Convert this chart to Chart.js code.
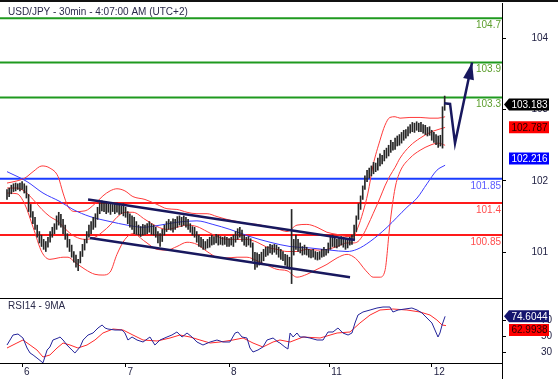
<!DOCTYPE html>
<html>
<head>
<meta charset="utf-8">
<script src="https://cdn.jsdelivr.net/npm/chart.js@4.4.0/dist/chart.umd.min.js"></script>
<style>
  body { margin: 0; background: #fff; }
  #wrap { position: relative; width: 558px; height: 379px; }
  #wrap canvas { position: absolute; left: 0; top: 0; }
</style>
</head>
<body>
<div id="wrap">
  <canvas id="mainChart" width="558" height="379"></canvas>
  <canvas id="rsiChart" width="558" height="379"></canvas>
</div>
<script>
// 30 min bars, index 0 = first bar on the left
var barHighs = [
  101.88,101.90,101.94,101.96,101.97,101.96,101.97,101.99,101.96,101.93,
  101.81,101.67,101.57,101.49,101.38,101.29,101.24,101.18,101.15,101.21,
  101.29,101.35,101.40,101.51,101.56,101.53,101.46,101.38,101.26,101.18,
  101.10,101.01,100.96,100.90,101.01,101.11,101.18,101.29,101.38,101.43,
  101.49,101.54,101.63,101.69,101.72,101.69,101.71,101.68,101.69,101.67,
  101.68,101.69,101.67,101.65,101.68,101.63,101.57,101.54,101.51,101.49,
  101.43,101.38,101.36,101.39,101.38,101.40,101.43,101.40,101.38,101.35,
  101.29,101.26,101.32,101.38,101.43,101.46,101.43,101.47,101.46,101.50,
  101.51,101.49,101.51,101.49,101.46,101.40,101.36,101.35,101.29,101.24,
  101.21,101.18,101.15,101.18,101.21,101.24,101.22,101.25,101.24,101.22,
  101.21,101.22,101.21,101.19,101.21,101.24,101.29,101.33,101.35,101.31,
  101.24,101.21,101.22,101.19,101.13,101.00,100.99,100.97,101.00,101.04,
  101.07,101.08,101.11,101.10,101.11,101.10,101.07,101.04,101.01,100.97,
  100.96,100.93,101.60,101.18,101.24,101.18,101.13,101.08,101.10,101.07,
  101.04,101.03,101.04,101.01,101.00,101.01,101.04,101.07,101.04,101.13,
  101.21,101.24,101.21,101.18,101.21,101.22,101.21,101.18,101.18,101.21,
  101.24,101.38,101.51,101.68,101.79,101.93,102.07,102.15,102.18,102.21,
  102.26,102.25,102.32,102.38,102.36,102.43,102.46,102.50,102.57,102.54,
  102.60,102.63,102.65,102.68,102.71,102.72,102.76,102.79,102.82,102.81,
  102.83,102.81,102.82,102.79,102.78,102.75,102.76,102.71,102.68,102.65,
  102.63,102.64,103.04,103.19
];
var barLows = [
  101.74,101.78,101.82,101.85,101.86,101.88,101.86,101.88,101.83,101.76,
  101.57,101.49,101.40,101.32,101.21,101.13,101.08,101.04,101.01,101.07,
  101.14,101.21,101.26,101.32,101.38,101.35,101.26,101.18,101.07,101.01,
  100.93,100.86,100.79,100.74,100.85,100.94,101.03,101.13,101.21,101.26,
  101.32,101.35,101.46,101.54,101.58,101.57,101.54,101.56,101.53,101.57,
  101.54,101.56,101.53,101.54,101.51,101.49,101.40,101.35,101.32,101.26,
  101.25,101.24,101.22,101.24,101.25,101.26,101.28,101.25,101.24,101.21,
  101.13,101.08,101.15,101.24,101.29,101.32,101.31,101.28,101.32,101.35,
  101.38,101.36,101.38,101.35,101.32,101.28,101.24,101.21,101.14,101.08,
  101.07,101.04,101.04,101.06,101.07,101.10,101.11,101.13,101.10,101.11,
  101.10,101.11,101.08,101.08,101.10,101.08,101.14,101.18,101.21,101.15,
  101.10,101.08,101.10,101.07,100.88,100.76,100.79,100.82,100.85,100.88,
  100.94,100.96,100.99,100.97,101.00,100.97,100.93,100.90,100.88,100.82,
  100.79,100.76,100.56,100.96,101.04,101.01,100.99,100.96,100.97,100.96,
  100.93,100.92,100.93,100.90,100.89,100.90,100.93,100.94,100.96,100.99,
  101.04,101.08,101.07,101.06,101.08,101.10,101.07,101.04,101.06,101.10,
  101.11,101.18,101.29,101.46,101.60,101.74,101.88,101.99,102.04,102.07,
  102.10,102.13,102.15,102.21,102.24,102.28,102.32,102.35,102.40,102.43,
  102.44,102.49,102.50,102.53,102.57,102.60,102.63,102.67,102.69,102.68,
  102.71,102.69,102.69,102.67,102.65,102.63,102.64,102.57,102.54,102.51,
  102.47,102.49,102.46,102.99
];

// Bollinger bands (bar index -> value)
var bandX = [0,4.6,8.3,12.1,16.2,19.9,23.7,26.0,28.3,31.5,36.2,40.8,44.5,47.8,51.0,54.7,58.4,64.0,69.6,74.2,
  78.8,83.5,88.1,92.8,97.4,102.0,106.7,111.3,116.0,120.6,125.2,129.9,134.5,139.1,143.8,148.4,153.1,157.7,160.5,162.8,
  165.1,167.4,169.8,173.0,175.3,177.6,180.0,182.3,186.9,191.6,196.2,199.9,203.2];
var bandUpper = [101.97,102.00,102.04,102.13,102.21,102.18,102.06,101.83,101.64,101.57,
  101.58,101.68,101.79,101.86,101.89,101.86,101.78,101.74,101.67,101.61,
  101.60,101.56,101.54,101.54,101.50,101.46,101.43,101.40,101.39,101.36,
  101.33,101.29,101.38,101.39,101.35,101.28,101.25,101.22,101.22,101.35,
  101.56,101.83,102.22,102.57,102.78,102.89,102.90,102.88,102.89,102.89,
  102.88,102.88,102.90];
var bandMiddle = [101.90,101.90,101.85,101.74,101.60,101.50,101.43,101.36,101.29,101.22,
  101.18,101.21,101.29,101.38,101.49,101.56,101.56,101.46,101.36,101.32,
  101.35,101.38,101.36,101.29,101.22,101.18,101.18,101.18,101.14,101.07,
  101.04,101.01,101.01,101.04,101.03,101.04,101.08,101.13,101.13,101.15,
  101.24,101.38,101.54,101.76,101.93,102.07,102.19,102.32,102.49,102.60,
  102.68,102.72,102.75];
var bandLower = [101.83,101.82,101.67,101.35,101.00,100.90,100.92,100.93,100.93,100.86,
  100.76,100.69,100.68,100.72,100.97,101.18,101.26,101.15,101.04,101.03,
  101.08,101.14,101.11,101.01,100.93,100.92,100.93,100.93,100.88,100.82,
  100.76,100.74,100.65,100.69,100.76,100.83,100.92,100.97,100.94,100.88,
  100.79,100.71,100.65,100.65,100.74,101.39,101.90,102.13,102.32,102.43,
  102.50,102.53,102.50];

// slow moving average (blue)
var maX = [0,9.3,16.7,24.6,30.6,38.5,47.8,55.7,63.1,71.0,78.8,88.1,95.5,103.4,112.7,122.0,131.3,140.5,149.8,157.7,
  162.3,168.4,176.3,180.9,185.5,190.2,194.8,199.4,203.2];
var maValues = [102.13,101.99,101.83,101.71,101.60,101.50,101.43,101.38,101.35,101.38,101.42,101.44,101.39,101.32,101.22,
  101.14,101.08,101.06,101.03,101.01,101.04,101.15,101.35,101.49,101.63,101.76,101.96,102.15,102.22];

// drawn levels
var levelValues = [104.28, 103.66, 103.17, 102.03, 101.69, 101.24];
var levelLabels = ['104.7', '103.9', '103.3', '101.85', '101.4', '100.85'];

// channel and forecast arrow
var channelUpperX = [37.6, 161.4];
var channelUpperY = [101.74, 101.17];
var channelLowerX = [38.5, 159.1];
var channelLowerY = [101.20, 100.65];
var arrowX = [202.7, 205.5, 207.8, 215.7];
var arrowY = [103.09, 103.08, 102.53, 103.66];

var priceTicks = [101, 102, 103, 104];
var lastValues = [103.183, 102.787, 102.216];
var dayTicks = [7, 55, 103, 149.5, 197];
var dayLabels = ['6', '7', '8', '11', '12'];

// RSI14 and its 9MA
var rsiX = [0,2.8,5.1,7.4,9.3,10.7,12.1,13.9,16.2,16.7,18.6,19.9,21.3,23.7,24.6,26.0,27.8,30.1,31.5,33.9,
  35.3,37.6,39.9,42.2,44.1,45.5,46.8,50.1,53.3,54.7,56.1,58.0,60.3,63.1,66.3,68.6,71.0,74.2,76.5,78.8,
  81.2,83.5,85.8,88.1,90.9,94.2,97.4,100.2,103.4,105.8,107.1,109.0,111.3,112.7,114.1,116.4,118.7,120.6,123.4,125.7,
  126.6,128.9,130.3,131.3,132.7,134.5,135.9,138.2,140.5,143.8,146.6,148.9,151.2,153.5,155.8,158.2,160.0,161.4,162.8,165.1,
  168.4,171.6,174.4,177.6,179.0,181.4,184.6,187.8,190.2,192.5,194.8,197.1,198.5,199.9,200.8,201.8,203.2];
var rsiValues = [38.75,51.25,52.5,47.5,35,28.75,26.25,22.5,17.5,16.5,32.5,36.25,45,47.5,48.75,45,38.75,32.5,28.75,36.25,
  45,51.25,53.75,60,63.75,60,58.75,57.5,57.5,53.75,45,48.75,45,42.5,48.75,38.75,45,48.75,51.25,55,
  48.75,53.75,48.75,42.5,38.75,42.5,45,42.5,42.5,53.75,55,48.75,47.5,35,30,32.5,36.25,45,47.5,42.5,
  41.25,36.25,33.75,53.75,48.75,53.75,48.75,48.75,47.5,45,45,55,55,60,53.75,51.25,53.75,66.25,76.25,80,
  82.5,85,86.25,86.25,80,82.5,83.75,85,82.5,78.75,72.5,66.25,57.5,48.75,53.75,63.75,74.6];
var rsiMaX = [0,4.6,7.4,10.7,13.9,16.7,19.9,23.2,26.0,29.2,32.9,37.1,40.8,44.5,49.2,53.8,58.4,63.1,69.6,75.6,
  80.2,84.9,89.5,94.2,98.8,104.8,109.5,114.1,118.7,123.4,126.6,131.3,137.3,145.2,153.1,159.1,163.7,168.4,173.0,179.0,
  185.5,191.6,196.2,199.4,201.8,203.6];
var rsiMaValues = [35,41.25,45,38.75,32.5,23.75,26.25,35,41.25,38.75,35,38.75,45,53.75,58.75,57.5,51.25,45,43.75,47.5,
  51.25,48.75,45,41.25,42.5,45,47.5,41.25,36.25,42.5,45,42.5,48.75,47.5,53.75,55,66.25,76.25,82.5,83.75,
  82.5,80,76.25,70,63.75,63];
var rsiTicks = [30, 50, 70];
var rsiLastValues = [74.6044, 62.9938];

// ---- styles ----
var FONT = "'Liberation Sans', Arial, sans-serif";
var NAVY = '#18185e';
var levelColors = ['#1f9a1f', '#1f9a1f', '#1f9a1f', '#1a3cff', '#ff1a1a', '#ff1a1a'];
var levelTextColors = ['#5c9e2c', '#5c9e2c', '#5c9e2c', '#5a5aff', '#ff4d4d', '#ff4d4d'];
var xMin = -3.247, xMax = 229.59;

Chart.defaults.font.family = FONT;
Chart.defaults.font.size = 10;

function pts(xs, ys) {
  var out = [];
  for (var i = 0; i < xs.length && i < ys.length; i++) out.push({x: xs[i], y: ys[i]});
  return out;
}

function lineSet(data, color, width, order, smooth) {
  return {
    type: 'line', data: data, borderColor: color, borderWidth: width,
    pointRadius: 0, fill: false, order: order,
    cubicInterpolationMode: smooth ? 'monotone' : 'default', tension: 0
  };
}

// small price tag on the right axis
function valueBox(ctx, text, yc, bg, fg, pointer) {
  var left = 509, right = 549, h = 12;
  ctx.fillStyle = bg;
  ctx.beginPath();
  if (pointer) { ctx.moveTo(504, yc); ctx.lineTo(left, yc - h / 2); }
  else ctx.moveTo(left, yc - h / 2);
  ctx.lineTo(right, yc - h / 2);
  ctx.lineTo(right, yc + h / 2);
  ctx.lineTo(left, yc + h / 2);
  ctx.closePath();
  ctx.fill();
  ctx.fillStyle = fg;
  ctx.font = '10px ' + FONT;
  ctx.textAlign = 'center';
  ctx.textBaseline = 'middle';
  ctx.fillText(text, (left + right) / 2 + 0.5, yc + 0.5);
}

var datasets = [];
levelValues.forEach(function(v, i) {
  datasets.push(lineSet([{x: xMin, y: v}, {x: xMax, y: v}], levelColors[i], 2, 5, false));
});
datasets.push(lineSet(pts(bandX, bandUpper), '#ff3a3a', 1, 4, true));
datasets.push(lineSet(pts(bandX, bandMiddle), '#ff3a3a', 1, 4, true));
datasets.push(lineSet(pts(bandX, bandLower), '#ff3a3a', 1, 4, true));
datasets.push(lineSet(pts(maX, maValues), '#3a3aff', 1, 3, true));
datasets.push({
  type: 'bar',
  data: barHighs.map(function(h, i) { return {x: i, y: [barLows[i], h]}; }),
  backgroundColor: '#262626', barThickness: 1, order: 2
});
datasets.push(lineSet(pts(channelUpperX, channelUpperY), NAVY, 2.5, 1, false));
datasets.push(lineSet(pts(channelLowerX, channelLowerY), NAVY, 2.5, 1, false));
var arrowSet = lineSet(pts(arrowX, arrowY), NAVY, 2.5, 0, false);
arrowSet.borderJoinStyle = 'miter';
datasets.push(arrowSet);
var arrowIndex = datasets.length - 1;

var mainOverlay = {
  id: 'mainOverlay',
  afterDatasetsDraw: function(chart) {
    var ctx = chart.ctx, ys = chart.scales.y, area = chart.chartArea;
    ctx.save();
    // arrow head
    var p = chart.getDatasetMeta(arrowIndex).data;
    var a = p[p.length - 2], b = p[p.length - 1];
    var ang = Math.atan2(b.y - a.y, b.x - a.x);
    var len = 17, half = 5.5;
    ctx.fillStyle = NAVY;
    ctx.beginPath();
    ctx.moveTo(b.x, b.y);
    ctx.lineTo(b.x - len * Math.cos(ang) + half * Math.sin(ang), b.y - len * Math.sin(ang) - half * Math.cos(ang));
    ctx.lineTo(b.x - len * Math.cos(ang) - half * Math.sin(ang), b.y - len * Math.sin(ang) + half * Math.cos(ang));
    ctx.closePath();
    ctx.fill();
    // level labels
    ctx.font = '10px ' + FONT;
    ctx.textAlign = 'right';
    ctx.textBaseline = 'middle';
    levelValues.forEach(function(v, i) {
      ctx.fillStyle = levelTextColors[i];
      ctx.fillText(levelLabels[i], area.right - 1, ys.getPixelForValue(v) + 7);
    });
    ctx.restore();
  },
  afterDraw: function(chart) {
    var ctx = chart.ctx, ys = chart.scales.y;
    ctx.save();
    ctx.fillStyle = '#111';
    ctx.fillRect(0, 0, 558, 2);
    ctx.font = '10px ' + FONT;
    ctx.textAlign = 'left';
    ctx.textBaseline = 'middle';
    ctx.fillStyle = '#2a2a4a';
    ctx.fillText('USD/JPY - 30min - 4:07:00 AM (UTC+2)', 8, 12);
    valueBox(ctx, lastValues[0].toFixed(3), ys.getPixelForValue(lastValues[0]) + 8, '#000', '#fff', true);
    valueBox(ctx, lastValues[1].toFixed(3), ys.getPixelForValue(lastValues[1]) + 2.5, '#ff0000', '#2a0000', false);
    valueBox(ctx, lastValues[2].toFixed(3), ys.getPixelForValue(lastValues[2]) - 7, '#0000ff', '#fff', false);
    ctx.restore();
  }
};

new Chart(document.getElementById('mainChart'), {
  type: 'bar',
  data: { datasets: datasets },
  options: {
    responsive: false, animation: false, devicePixelRatio: 1,
    layout: { padding: { top: 3, bottom: 80, left: 0, right: 0 } },
    plugins: { legend: { display: false }, tooltip: { enabled: false } },
    scales: {
      x: { type: 'linear', min: xMin, max: xMax, bounds: 'data', offset: false, display: false },
      y: {
        type: 'linear', position: 'right', min: 100.344, max: 104.495, bounds: 'data',
        afterBuildTicks: function(s) { s.ticks = priceTicks.map(function(v) { return {value: v}; }); },
        afterFit: function(s) { s.width = 56; s.paddingTop = 0; s.paddingBottom = 0; },
        ticks: { padding: 25.5, crossAlign: 'near', color: '#222244', font: { size: 10 } },
        grid: { drawOnChartArea: false, tickLength: 4, color: '#000' },
        border: { color: '#000', width: 1 }
      }
    }
  },
  plugins: [mainOverlay]
});

// ---- RSI panel ----
var rsiOverlay = {
  id: 'rsiOverlay',
  afterDraw: function(chart) {
    var ctx = chart.ctx, ys = chart.scales.y, area = chart.chartArea;
    ctx.save();
    ctx.fillStyle = '#000';
    ctx.fillRect(0, area.top - 1, area.right + 1, 1);
    ctx.fillRect(area.right, area.bottom, 1, 379 - area.bottom);
    ctx.font = '10px ' + FONT;
    ctx.textAlign = 'left';
    ctx.textBaseline = 'middle';
    ctx.fillStyle = '#2a2a4a';
    ctx.fillText('RSI14 - 9MA', 8, 306);
    valueBox(ctx, rsiLastValues[0].toFixed(4), ys.getPixelForValue(rsiLastValues[0]), '#14146e', '#fff', true);
    valueBox(ctx, rsiLastValues[1].toFixed(4), ys.getPixelForValue(rsiLastValues[1]) + 4.5, '#ff0000', '#2a0000', false);
    ctx.restore();
  }
};

new Chart(document.getElementById('rsiChart'), {
  type: 'line',
  data: {
    datasets: [
      lineSet(pts(rsiX, rsiValues), '#23239a', 1, 0, false),
      lineSet(pts(rsiMaX, rsiMaValues), '#ff2a2a', 1, 1, false)
    ]
  },
  options: {
    responsive: false, animation: false, devicePixelRatio: 1,
    layout: { padding: { top: 299, bottom: 0, left: 0, right: 0 } },
    plugins: { legend: { display: false }, tooltip: { enabled: false } },
    scales: {
      x: {
        type: 'linear', min: xMin, max: xMax, bounds: 'data', offset: false, position: 'bottom',
        afterBuildTicks: function(s) { s.ticks = dayTicks.map(function(v) { return {value: v}; }); },
        afterFit: function(s) { s.height = 16; s.paddingLeft = 0; s.paddingRight = 0; },
        ticks: {
          autoSkip: false, maxRotation: 0, align: 'start', labelOffset: 2, padding: -1,
          color: '#222244', font: { size: 10 },
          callback: function(v, i) { return dayLabels[i]; }
        },
        grid: { drawOnChartArea: false, tickLength: 4, color: '#000' },
        border: { color: '#000', width: 1 }
      },
      y: {
        type: 'linear', position: 'right', min: 16.25, max: 96.25, bounds: 'data',
        afterBuildTicks: function(s) { s.ticks = rsiTicks.map(function(v) { return {value: v}; }); },
        afterFit: function(s) { s.width = 56; s.paddingTop = 0; s.paddingBottom = 0; },
        ticks: { padding: 35, crossAlign: 'near', color: '#222244', font: { size: 10 } },
        grid: { drawOnChartArea: false, tickLength: 4, color: '#000' },
        border: { color: '#000', width: 1 }
      }
    }
  },
  plugins: [rsiOverlay]
});
</script>
</body>
</html>
